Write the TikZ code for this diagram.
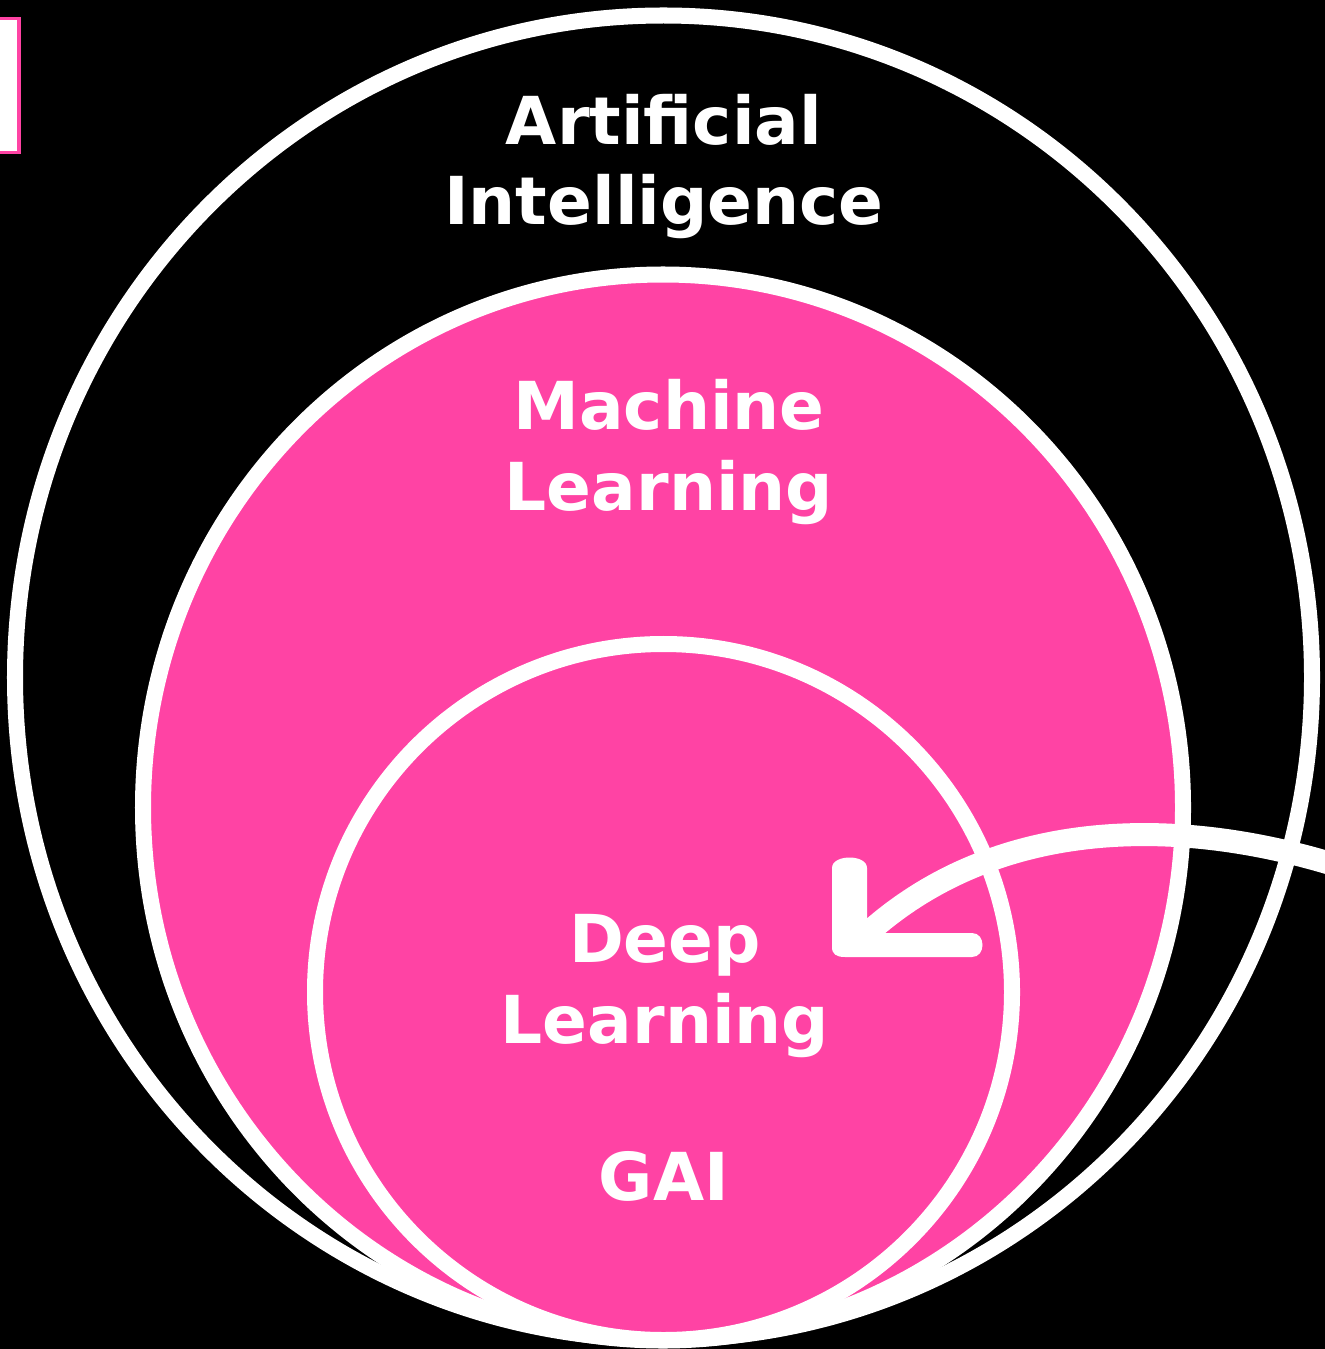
\documentclass[tikz,border=0pt]{standalone}
\usepackage{fontspec}
\setmainfont{DejaVu Sans}
\usetikzlibrary{positioning}
\definecolor{aipink}{RGB}{255,67,164}

\begin{document}
\begin{tikzpicture}[
  x=0.01cm, y=-0.01cm,
  ring/.style={draw=white, line width=0.16cm},
  areatext/.style={text=white, font=\fontsize{18.8}{22.8}\selectfont\bfseries,
                   align=center, inner sep=0pt, anchor=base},
  curvearrow/.style={white, line width=0.23cm}
]
\useasboundingbox (0,0) rectangle (1325,1349);
\fill[black] (0,0) rectangle (1325,1349);
\clip (0,0) rectangle (1325,1349);

% tab at the left edge
\filldraw[fill=white, draw=aipink, line width=0.03cm] (-10,19) rectangle (19,153);

% nested sets
\draw[ring] (663.5,677.5) ellipse [x radius=648.5, y radius=662];
\filldraw[ring, fill=aipink] (663,807.5) ellipse [x radius=520, y radius=533];
\filldraw[ring, fill=aipink] (663.5,992) ellipse [x radius=348.5, y radius=348];

% base = baseline of the last line
\node[areatext] (ai) at (664,225) {Artificial\\Intelligence};
\node[areatext] (ml) at (669,510) {Machine\\Learning};
\node[areatext] (dl) at (665,1043) {Deep\\Learning};
\node[areatext] (gai) at (664,1200) {GAI};

% arrow coming in from the right
\coordinate (feed) at (1345,868);
\coordinate (tip) at (858,942);
\draw[curvearrow] (feed) .. controls (1180,815) and (990,815) .. (tip);
\fill[white] (832,868) .. controls (832,854) and (867,854) .. (867,868)
  -- (867,933) -- (972,933) .. controls (986,933) and (986,957) .. (972,957)
  -- (845,957) .. controls (836,957) and (832,954) .. (832,947) -- cycle;
\end{tikzpicture}
\end{document}
